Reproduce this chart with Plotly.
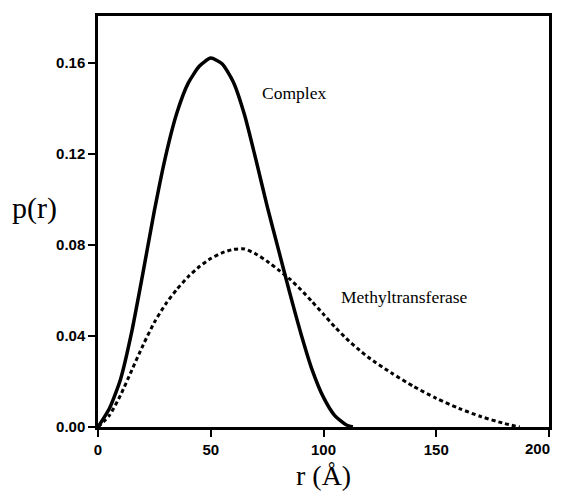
import plotly.graph_objects as go

# Complex p(r)
complex_r = [0, 5, 10, 15, 20, 25, 30, 35, 40, 45, 50, 55, 60, 65, 70, 75, 80, 85, 90, 95, 100, 105, 110, 113]
complex_p = [0, 0.008, 0.021, 0.042, 0.068, 0.095, 0.119, 0.138, 0.151, 0.1585, 0.162, 0.1595, 0.1515, 0.137,
             0.1175, 0.097, 0.078, 0.059, 0.041, 0.025, 0.013, 0.005, 0.001, 0]

# Methyltransferase p(r)
methyl_r = [0, 5, 10, 15, 20, 25, 30, 35, 40, 45, 50, 55, 60, 65, 70, 75, 80, 85, 90, 95, 100, 105, 110,
            115, 120, 130, 140, 150, 160, 170, 180, 187]
methyl_p = [0, 0.005, 0.014, 0.025, 0.036, 0.046, 0.054, 0.0605, 0.066, 0.0705, 0.074, 0.0765, 0.078, 0.0782,
            0.0760, 0.0728, 0.069, 0.065, 0.0603, 0.055, 0.0495, 0.044, 0.039, 0.0345, 0.0305, 0.0238,
            0.0178, 0.0126, 0.0082, 0.0045, 0.0016, 0]

x_ticks = [0, 50, 100, 150, 200]
x_tick_labels = ["0", "50", "100", "150", "200"]
y_ticks = [0.00, 0.04, 0.08, 0.12, 0.16]
y_tick_labels = ["0.00", "0.04", "0.08", "0.12", "0.16"]

fig = go.Figure()
fig.add_trace(go.Scatter(x=methyl_r, y=methyl_p, mode="lines",
                         line=dict(color="black", width=3, dash="4px,3px", shape="spline", smoothing=0.6),
                         showlegend=False))
fig.add_trace(go.Scatter(x=complex_r, y=complex_p, mode="lines",
                         line=dict(color="black", width=3.5, shape="spline", smoothing=0.6),
                         showlegend=False))

serif = "Liberation Serif, Times New Roman, serif"
sans = "Liberation Sans, Arial, sans-serif"
tickfont = dict(family=sans, size=15, weight="bold", color="black")

fig.add_annotation(x=87, y=0.1468, text="Complex", showarrow=False,
                   font=dict(family=serif, size=17.5, color="black", weight="normal"))
fig.add_annotation(x=136, y=0.0571, text="Methyltransferase", showarrow=False,
                   font=dict(family=serif, size=17.5, color="black", weight="normal"))
fig.add_annotation(xref="paper", yref="paper", x=-0.14, y=0.533, text="p(r)", showarrow=False,
                   xanchor="center", yanchor="middle",
                   font=dict(family=serif, size=30, color="black", weight="normal"))
fig.add_annotation(xref="paper", yref="paper", x=0.5, y=-0.117, text="r (Å)", showarrow=False,
                   xanchor="center", yanchor="middle",
                   font=dict(family=serif, size=28, color="black", weight="normal"))
# last x tick label drawn as a right-anchored label so it stays inside the window
fig.add_annotation(x=x_ticks[-1], xref="x", yref="paper", y=0, text=x_tick_labels[-1], showarrow=False,
                   xanchor="right", yanchor="top", xshift=3, yshift=-11, font=tickfont)

# figure is offset by the page's 8px body margin, so size it to fit the window
fig.update_layout(
    width=554, height=485,
    margin=dict(l=90, r=13, t=8, b=66),
    paper_bgcolor="white", plot_bgcolor="white",
    font=dict(family=sans, size=14, color="black"),
)
fig.update_xaxes(range=[0, 200], tickvals=x_ticks, ticktext=x_tick_labels[:-1] + [""], ticks="outside",
                 ticklen=7, tickwidth=2, tickcolor="black", showline=True, linewidth=2.5, linecolor="black",
                 mirror=True, showgrid=False, zeroline=False, automargin=False, tickfont=tickfont)
fig.update_yaxes(range=[0, 0.1805], tickvals=y_ticks, ticktext=y_tick_labels, ticks="outside", ticklen=7,
                 tickwidth=2, tickcolor="black", showline=True, linewidth=2.5, linecolor="black",
                 mirror=True, showgrid=False, zeroline=False, automargin=False, tickfont=tickfont)

fig.write_html("out.html")
